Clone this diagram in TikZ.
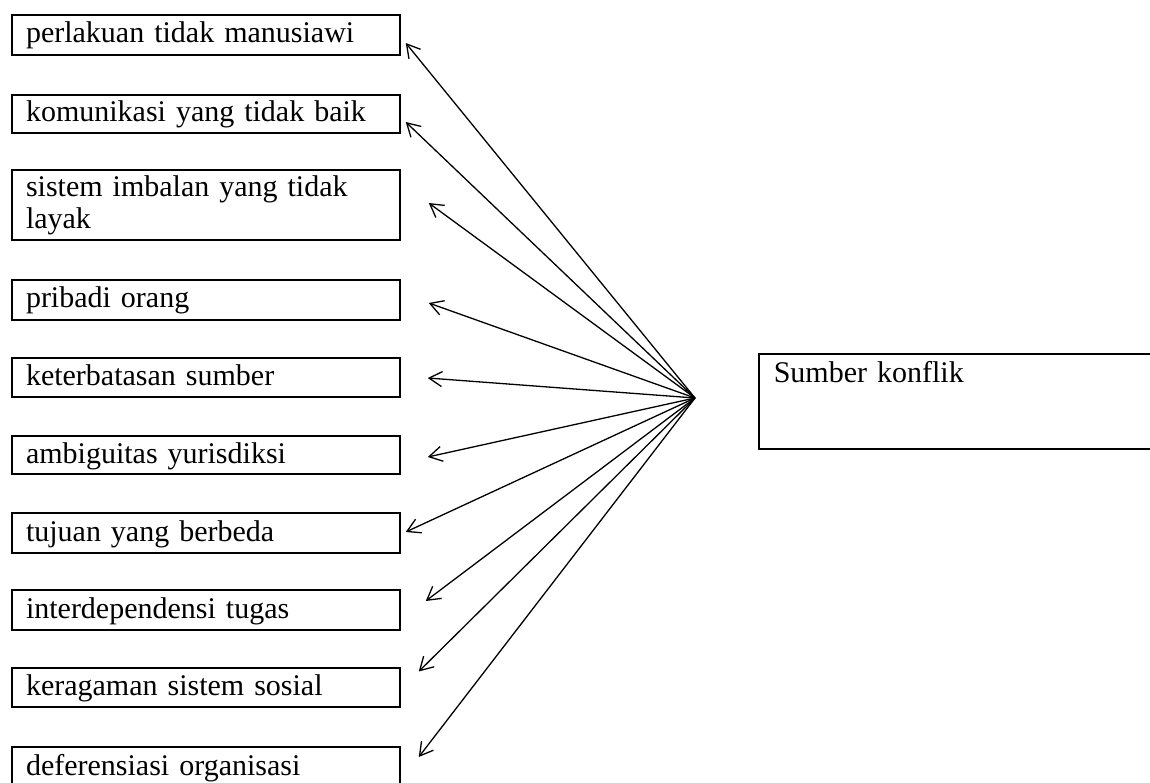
\documentclass[tikz,border=0pt]{standalone}
\usepackage{fontspec}
\setmainfont{Liberation Serif}
\usetikzlibrary{arrows.meta,calc}
\begin{document}
\begin{tikzpicture}[x=1pt,y=-1pt,
  box/.style={draw, line width=1.5pt, rectangle, text width=360pt, align=left,
    inner xsep=14pt, inner ysep=0pt, font=\fontsize{30}{32}\selectfont},
  sbox/.style={box, text height=22pt, text depth=6pt},
  arr/.style={line width=1.3pt, -{Straight Barb[length=13pt,width=15pt]}}]
\useasboundingbox (0,0) rectangle (1150,783);
\node[sbox, minimum height=40pt] (b1) at (206,35) {perlakuan tidak manusiawi};
\node[sbox, minimum height=38pt] (b2) at (206,114) {komunikasi yang tidak baik};
\node[box, minimum height=70pt] (b3) at (206,205) {sistem imbalan yang tidak\\layak};
\node[sbox, minimum height=40pt] (b4) at (206,300) {pribadi orang};
\node[sbox, minimum height=39pt] (b5) at (206,377.5) {keterbatasan sumber};
\node[sbox, minimum height=38pt] (b6) at (206,455) {ambiguitas yurisdiksi};
\node[sbox, minimum height=40pt] (b7) at (206,533) {tujuan yang berbeda};
\node[sbox, minimum height=40pt] (b8) at (206,610) {interdependensi tugas};
\node[sbox, minimum height=39pt] (b9) at (206,687.5) {keragaman sistem sosial};
\node[sbox, minimum height=40pt] (b10) at (206,767) {deferensiasi organisasi};
\node[draw, line width=1.5pt, anchor=north west, text width=390pt, align=left,
  inner xsep=15pt, inner ysep=8pt, text height=21pt, text depth=58pt,
  font=\fontsize{30}{32}\selectfont] (s) at (758,353) {Sumber konflik};
\coordinate (c) at (695,398);
\draw[arr] (c) -- ($(b1.east)+(5,8)$);
\draw[arr] (c) -- ($(b2.east)+(5,8)$);
\draw[arr] (c) -- ($(b3.east)+(28,-2)$);
\draw[arr] (c) -- ($(b4.east)+(28,3)$);
\draw[arr] (c) -- ($(b5.east)+(27,0.5)$);
\draw[arr] (c) -- ($(b6.east)+(27,2)$);
\draw[arr] (c) -- ($(b7.east)+(5,-1)$);
\draw[arr] (c) -- ($(b8.east)+(25,-9)$);
\draw[arr] (c) -- ($(b9.east)+(18,-16)$);
\draw[arr] (c) -- ($(b10.east)+(18,-10)$);
\end{tikzpicture}
\end{document}
